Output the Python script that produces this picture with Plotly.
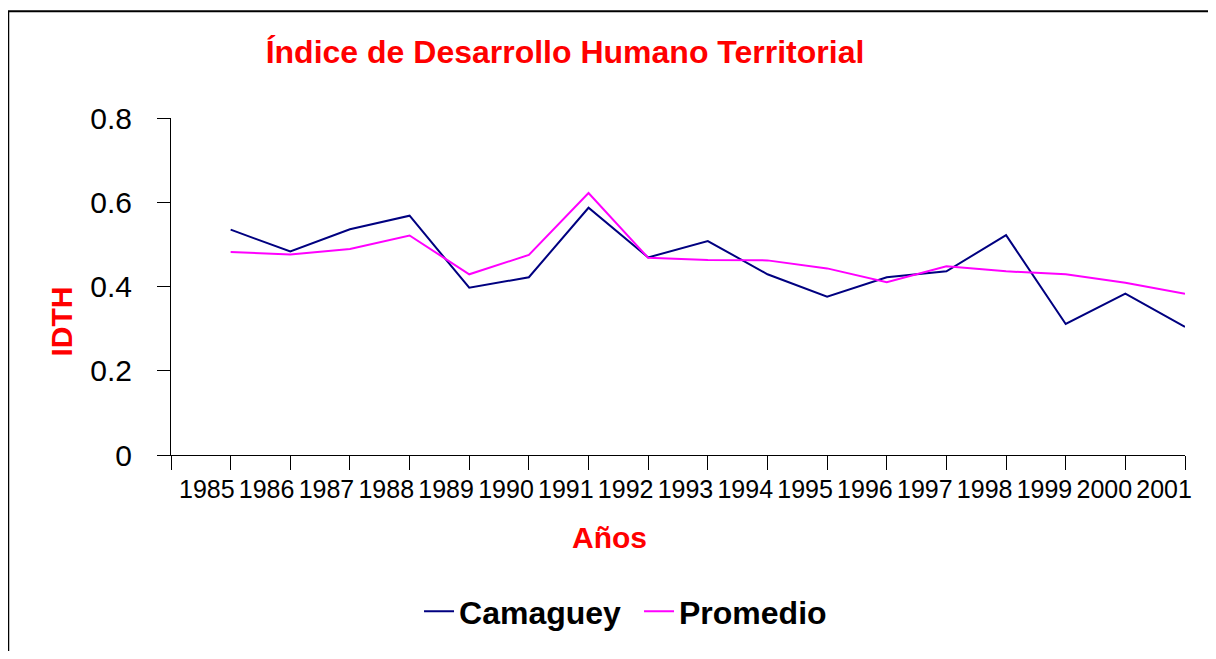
import numpy as np
import plotly.graph_objects as go

# data
years = [1985, 1986, 1987, 1988, 1989, 1990, 1991, 1992, 1993,
         1994, 1995, 1996, 1997, 1998, 1999, 2000, 2001]
camaguey = [0.535, 0.483, 0.536, 0.568, 0.397, 0.422, 0.587, 0.469, 0.508,
            0.429, 0.376, 0.422, 0.436, 0.522, 0.311, 0.383, 0.304]
promedio = [0.482, 0.476, 0.489, 0.521, 0.429, 0.475, 0.622, 0.468, 0.463,
            0.462, 0.443, 0.410, 0.448, 0.436, 0.429, 0.409, 0.383]
year_labels = [str(y) for y in years]
y_ticks = [0, 0.2, 0.4, 0.6, 0.8]
y_labels = ['0', '0.2', '0.4', '0.6', '0.8']

FONT = 'Arial, Liberation Sans, sans-serif'
RED = '#FF0000'

fig = go.Figure()
fig.add_trace(go.Scatter(x=years, y=camaguey, mode='lines', name='Camaguey',
                         line=dict(color='#000080', width=2)))
fig.add_trace(go.Scatter(x=years, y=promedio, mode='lines', name='Promedio',
                         line=dict(color='#FF00FF', width=2)))

# labels sit a bit left of the points on the left half (Excel spacing)
label_pos = np.linspace(1984.6, 2000.65, len(years)).round(3).tolist()

fig.update_xaxes(
    range=[1984, 2001], showgrid=False, zeroline=False,
    showline=True, linecolor='#000000', linewidth=1,
    tickvals=label_pos, ticktext=year_labels, ticks='',
    tickfont=dict(family=FONT, size=25, color='#000000'),
    ticklabelstandoff=12,
    minor=dict(tick0=1984, dtick=1, ticks='outside', ticklen=14,
               tickcolor='#000000', tickwidth=1, showgrid=False),
)
fig.update_yaxes(
    range=[0, 0.8], showgrid=False, zeroline=False,
    showline=True, linecolor='#000000', linewidth=1,
    tickvals=y_ticks, ticktext=y_labels, ticks='outside', ticklen=13,
    tickcolor='#000000',
    tickfont=dict(family=FONT, size=30, color='#000000'),
    ticklabelstandoff=19,
)

# outer chart frame (cut off at right and bottom in the reference)
fig.add_shape(type='rect', xref='paper', yref='paper',
              x0=-0.1605, x1=1.2, y0=-1.0, y1=1.317,
              line=dict(color='#000000', width=2), layer='above')

fig.add_annotation(text='IDTH', xref='paper', yref='paper',
                   x=-0.1075, y=0.396, textangle=-90, showarrow=False,
                   xanchor='center', yanchor='middle',
                   font=dict(family=FONT, size=30, color=RED, weight='bold'))
fig.add_annotation(text='Años', xref='paper', yref='paper',
                   x=0.432, y=-0.245, showarrow=False,
                   xanchor='center', yanchor='middle',
                   font=dict(family=FONT, size=30, color=RED, weight='bold'))

# page body adds an 8px margin on every side, so keep the figure inside it
fig.update_layout(
    width=1200, height=643,
    margin=dict(l=163, r=23, t=110, b=196),
    paper_bgcolor='#FFFFFF', plot_bgcolor='#FFFFFF',
    title=dict(text='Índice de Desarrollo Humano Territorial',
               xref='container', yref='container', x=557 / 1200, y=1 - 44 / 643,
               xanchor='center', yanchor='middle',
               font=dict(family=FONT, size=32, color=RED, weight='bold')),
    legend=dict(orientation='h', x=0.2446, y=-0.464, xanchor='left',
                yanchor='middle', bgcolor='rgba(0,0,0,0)',
                font=dict(family=FONT, size=32, color='#000000', weight='bold'),
                itemwidth=30, entrywidth=175, entrywidthmode='pixels'),
    showlegend=True,
)

fig.write_html('out.html')
